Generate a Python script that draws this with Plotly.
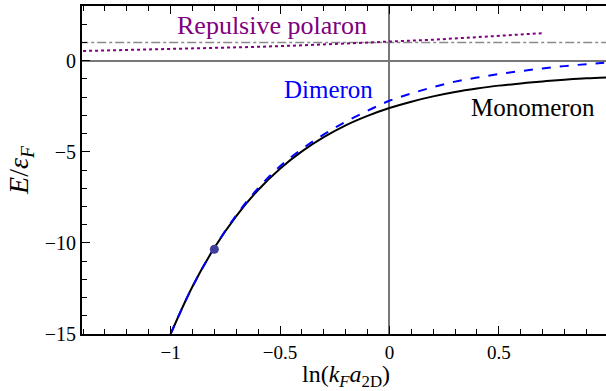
import plotly.graph_objects as go

# Data
x_curve = [-1.0, -0.9, -0.8, -0.7, -0.6, -0.5, -0.4, -0.3, -0.2, -0.1, 0.0,
           0.1, 0.2, 0.3, 0.4, 0.5, 0.6, 0.7, 0.8, 0.9, 1.0]
monomeron = [-15.0, -12.39, -10.27, -8.53, -7.10, -5.93, -4.98, -4.20, -3.55, -3.03, -2.60,
             -2.25, -1.96, -1.72, -1.53, -1.37, -1.25, -1.14, -1.05, -0.97, -0.92]
dimeron = [-15.0, -12.40, -10.27, -8.48, -7.00, -5.80, -4.85, -4.05, -3.35, -2.75, -2.20,
           -1.80, -1.45, -1.15, -0.93, -0.73, -0.57, -0.43, -0.30, -0.19, -0.10]
x_polaron = [-1.4, -1.2, -1.0, -0.8, -0.6, -0.4, -0.2, 0.0, 0.2, 0.4, 0.6, 0.7]
polaron = [0.53, 0.58, 0.63, 0.69, 0.76, 0.84, 0.93, 1.03, 1.15, 1.29, 1.43, 1.51]
x_ref = [-1.5, 1.1]
fermi = [1.0, 1.0]
dot_x = [-0.8]
dot_y = [-10.35]

FONT = "Liberation Serif, DejaVu Serif, Times New Roman, serif"

L, R, T, B = 82, 0, 6, 57
W, H = 606, 391
xr = [-1.405, 0.99]
yr = [-15, 3]

def px2x(p):
    return xr[0] + (p - L) / (W - L - R) * (xr[1] - xr[0])

def py2y(p):
    return yr[1] - (p - T) / (H - T - B) * (yr[1] - yr[0])

fig = go.Figure()
fig.add_trace(go.Scatter(x=x_ref, y=fermi, mode="lines",
                         line=dict(color="#8a8a8a", width=1.5, dash="dashdot")))
fig.add_trace(go.Scatter(x=x_polaron, y=polaron, mode="lines",
                         line=dict(color="#800080", width=2, dash="dot")))
fig.add_trace(go.Scatter(x=x_curve, y=monomeron, mode="lines", line_shape="spline",
                         line=dict(color="black", width=2)))
fig.add_trace(go.Scatter(x=x_curve, y=dimeron, mode="lines", line_shape="spline",
                         line=dict(color="#0000ff", width=2, dash="dash")))
fig.add_trace(go.Scatter(x=dot_x, y=dot_y, mode="markers",
                         marker=dict(color="#3f3f9a", size=9)))

labels = [("Repulsive polaron", 272, 25, "#800080", 26),
          ("Dimeron", 328, 89, "#0000ff", 25),
          ("Monomeron", 533, 107, "black", 25)]
for txt, px, py, col, sz in labels:
    fig.add_annotation(x=px2x(px), y=py2y(py), xref="x", yref="y", text=txt,
                       showarrow=False, font=dict(family=FONT, size=sz, color=col))

# x-axis title placed at the bottom of the figure
fig.add_annotation(x=px2x(346), xref="x", y=0, yref="paper", yanchor="bottom", yshift=-59,
                   text="ln(<i>k<sub>F</sub>a</i><sub>2D</sub>)", showarrow=False,
                   font=dict(family=FONT, size=24, color="black"))

fig.update_layout(
    width=W, height=H, margin=dict(l=L, r=R, t=T, b=B),
    plot_bgcolor="white", paper_bgcolor="white", showlegend=False,
    font=dict(family=FONT, size=20, color="black"),
)
fig.update_xaxes(
    range=xr, showgrid=False, zeroline=True, zerolinecolor="#777777", zerolinewidth=1.5,
    showline=True, linecolor="black", linewidth=2, mirror="allticks",
    ticks="inside", ticklen=8, tickwidth=1, tickcolor="black",
    tickvals=[-1, -0.5, 0, 0.5], ticktext=["\u22121", "\u22120.5", "0", "0.5"],
    minor=dict(dtick=0.1, tick0=0, ticks="inside", ticklen=5, tickcolor="black"),
    tickfont=dict(family=FONT, size=19),
)
fig.update_yaxes(
    range=yr, showgrid=False, zeroline=True, zerolinecolor="#777777", zerolinewidth=1.5,
    showline=True, linecolor="black", linewidth=2,
    ticks="inside", ticklen=8, tickwidth=1, tickcolor="black",
    tickvals=[-15, -10, -5, 0], ticktext=["\u221215", "\u221210", "\u22125", "0"],
    minor=dict(dtick=1, tick0=0, ticks="inside", ticklen=5, tickcolor="black"),
    tickfont=dict(family=FONT, size=20),
    title=dict(text="<i>E</i>/<i>\u03b5<sub>F</sub></i>", font=dict(family=FONT, size=28), standoff=8),
)
fig.write_html("out.html")
